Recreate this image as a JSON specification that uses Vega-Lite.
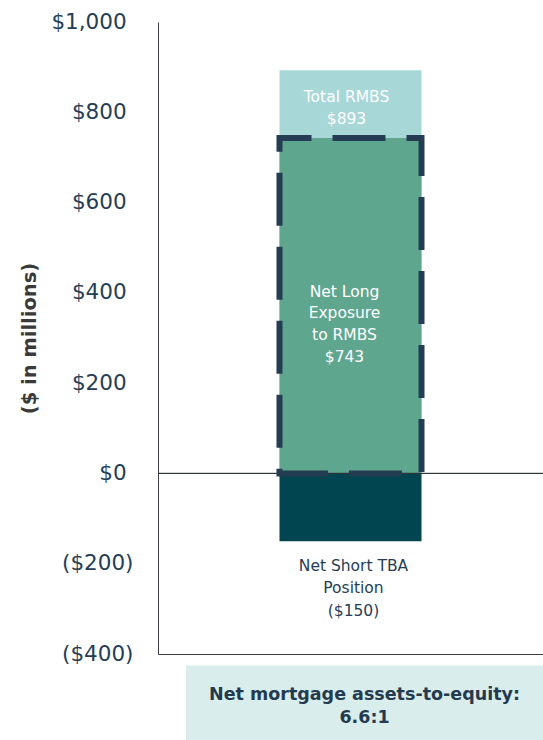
{
  "$schema": "https://vega.github.io/schema/vega-lite/v6.json",
  "width": 385,
  "height": 632,
  "autosize": {"type": "none"},
  "padding": {"left": 158, "top": 22, "right": 0, "bottom": 86},
  "background": "white",
  "config": {"view": {"stroke": null}, "font": "DejaVu Sans"},
  "datasets": {
    "bars": [
      {"category": "RMBS", "series": "Total RMBS", "start": 0, "end": 893, "label": "Total RMBS\n$893"},
      {"category": "RMBS", "series": "Net Long Exposure to RMBS", "start": 0, "end": 743, "label": "Net Long\nExposure\nto RMBS\n$743"},
      {"category": "RMBS", "series": "Net Short TBA Position", "start": 0, "end": -150, "label": "Net Short TBA\nPosition\n($150)"}
    ],
    "note": [{"text": "Net mortgage assets-to-equity:\n6.6:1"}]
  },
  "layer": [
    {
      "data": {"name": "bars"},
      "layer": [
        {
          "mark": {"type": "bar"},
          "encoding": {
            "x": {
              "field": "category",
              "type": "nominal",
              "scale": {"paddingInner": 0, "paddingOuter": 0.8556},
              "axis": {"labels": false, "ticks": false, "title": null, "domainColor": "#3a3d44", "domainWidth": 1}
            },
            "y": {
              "field": "start",
              "type": "quantitative",
              "scale": {"domain": [-400, 1000], "nice": false},
              "axis": {
                "values": [-400, -200, 0, 200, 400, 600, 800, 1000],
                "labelExpr": "datum.value < 0 ? '($' + format(-datum.value, ',') + ')' : '$' + format(datum.value, ',') + '\u00a0\u200b'",
                "labelFontSize": 21.5,
                "labelColor": "#253E56",
                "labelPadding": 25,
                "ticks": false,
                "grid": false,
                "domainColor": "#3a3d44",
                "domainWidth": 1,
                "title": "($ in millions)",
                "titleFontSize": 19.5,
                "titleFontWeight": "bold",
                "titleColor": "#3a3a3a",
                "titlePadding": 11
              }
            },
            "y2": {"field": "end"},
            "color": {
              "field": "series",
              "type": "nominal",
              "scale": {
                "domain": ["Total RMBS", "Net Long Exposure to RMBS", "Net Short TBA Position"],
                "range": ["#A8D7D8", "#5FA68F", "#00454F"]
              },
              "legend": null
            }
          }
        },
        {
          "mark": {"type": "rule", "color": "#33363d", "strokeWidth": 1},
          "encoding": {"y": {"datum": 0}}
        },
        {
          "transform": [{"filter": "datum.series == 'Net Long Exposure to RMBS'"}],
          "mark": {"type": "bar", "fill": "transparent", "stroke": "#253D52", "strokeWidth": 6, "strokeDash": [53, 21], "strokeDashOffset": 21},
          "encoding": {
            "x": {"field": "category", "type": "nominal"},
            "y": {"field": "start", "type": "quantitative"},
            "y2": {"field": "end"}
          }
        },
        {
          "transform": [{"filter": "datum.series == 'Total RMBS'"}],
          "mark": {"type": "text", "color": "white", "fontSize": 15.5, "lineBreak": "\n", "lineHeight": 21.5, "baseline": "middle", "align": "center", "dx": -4},
          "encoding": {
            "x": {"field": "category", "type": "nominal"},
            "y": {"datum": 833},
            "text": {"field": "label"}
          }
        },
        {
          "transform": [{"filter": "datum.series == 'Net Long Exposure to RMBS'"}],
          "mark": {"type": "text", "color": "white", "fontSize": 15.5, "lineBreak": "\n", "lineHeight": 21.7, "baseline": "middle", "align": "center", "dx": -6},
          "encoding": {
            "x": {"field": "category", "type": "nominal"},
            "y": {"datum": 403},
            "text": {"field": "label"}
          }
        },
        {
          "transform": [{"filter": "datum.series == 'Net Short TBA Position'"}],
          "mark": {"type": "text", "color": "#253E56", "fontSize": 15.5, "lineBreak": "\n", "lineHeight": 22.5, "baseline": "middle", "align": "center", "dx": 3},
          "encoding": {
            "x": {"field": "category", "type": "nominal"},
            "y": {"datum": -204},
            "text": {"field": "label"}
          }
        }
      ]
    },
    {
      "data": {"name": "note"},
      "layer": [
        {
          "mark": {"type": "rect", "fill": "#D9EEEC"},
          "encoding": {
            "x": {"datum": 28, "type": "quantitative", "scale": {"domain": [0, 385], "nice": false, "zero": false}, "axis": null},
            "x2": {"datum": 385},
            "y": {"datum": -425.5, "type": "quantitative"},
            "y2": {"datum": -592}
          }
        },
        {
          "mark": {"type": "text", "color": "#243A4F", "fontSize": 17.5, "fontWeight": "bold", "lineBreak": "\n", "lineHeight": 23, "baseline": "middle", "align": "center"},
          "encoding": {
            "x": {"datum": 206.5, "type": "quantitative"},
            "y": {"datum": -490, "type": "quantitative"},
            "text": {"field": "text"}
          }
        }
      ]
    }
  ],
  "resolve": {"scale": {"x": "independent"}, "axis": {"x": "independent"}}
}
